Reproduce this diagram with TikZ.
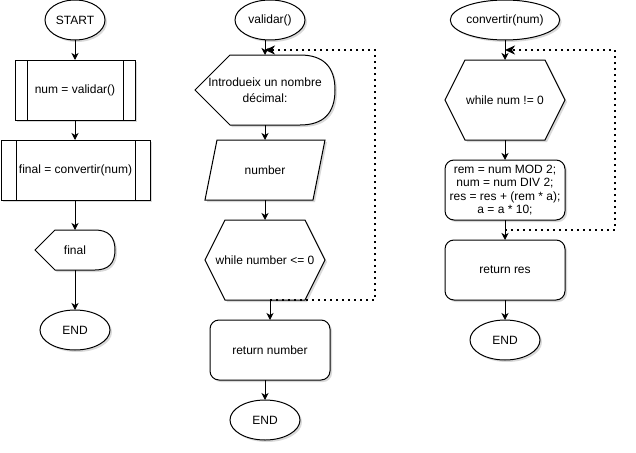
\documentclass[tikz,border=0pt]{standalone}
\usepackage{fontspec}
\setmainfont{Liberation Sans}
\usetikzlibrary{arrows.meta,calc,shadows,shapes.geometric,backgrounds}
\begin{document}
\begin{tikzpicture}[x=1pt,y=-1pt,
  font=\fontsize{12}{14}\selectfont,
  every node/.style={outer sep=0pt, inner sep=0pt, align=center},
  shp/.style={draw=black, fill=white, line width=1pt,
    drop shadow={shadow xshift=2pt, shadow yshift=-2pt, opacity=0.15, fill=black}},
  term/.style={shp, ellipse, minimum height=40pt},
  procbox/.style={shp, rectangle},
  roundbox/.style={shp, rectangle, rounded corners=9pt, minimum width=120pt, minimum height=60pt},
  arr/.style={line width=1pt, -{Stealth[length=7pt,width=7pt,inset=2pt]}},
  loopline/.style={line width=2pt, dash pattern=on 2pt off 4pt,
    -{Stealth[length=10pt,width=9pt,inset=3pt]}}
]
\useasboundingbox (0,0) rectangle (636,452);

% ---------- left column ----------
\node[term, minimum width=60pt] (start) at (75,20) {START};
\node[procbox, minimum width=120pt, minimum height=60pt] (p1) at (75,90) {num = validar()};
\node[procbox, minimum width=149pt, minimum height=60pt] (p2) at (75.5,170) {final = convertir(num)};
\node[minimum width=80pt, minimum height=40pt] (fin) at (75,250) {final};
\node[term, minimum width=70pt] (end1) at (75,330) {END};

% ---------- middle column ----------
\node[term, minimum width=70pt] (val) at (270,20) {validar()};
\node[minimum width=140pt, minimum height=70pt] (disp) at (265,90) {Introdueix un nombre\\[2pt]décimal:};
\node[minimum width=120pt, minimum height=60pt] (par) at (265,170) {number};
\node[minimum width=120pt, minimum height=80pt] (hex1) at (265,260) {while number <= 0};
\node[roundbox] (ret1) at (270,350) {return number};
\node[term, minimum width=70pt] (end2) at (265,420) {END};

% ---------- right column ----------
\node[term, minimum width=100pt] (conv) at (505,20) {convertir(num)};
\node[minimum width=120pt, minimum height=80pt] (hex2) at (505,100) {while num != 0};
\node[roundbox, font=\fontsize{12}{13.5}\selectfont] (calcb) at (505,190)
  {rem = num MOD 2;\\ num = num DIV 2;\\ res = res + (rem * a);\\ a = a * 10;};
\node[roundbox] (ret2) at (505,270) {return res};
\node[term, minimum width=70pt] (end3) at (505,340) {END};

\coordinate (lp1) at (375,300);
\coordinate (lp2) at (375,50);
\coordinate (rp1) at (615,230);
\coordinate (rp2) at (615,50);

% ---------- custom outlines ----------
\begin{scope}[on background layer]
  \fill[white] (0,0) rectangle (636,452);
  % display: final
  \path[shp] (fin.west) -- ($(fin.north west)+(20,0)$) -- ($(fin.north east)+(-20,0)$)
    .. controls ($(fin.north east)+(-6.67,0)$) and ($(fin.east)+(0,-13.33)$) .. (fin.east)
    .. controls ($(fin.east)+(0,13.33)$) and ($(fin.south east)+(-6.67,0)$) .. ($(fin.south east)+(-20,0)$)
    -- ($(fin.south west)+(20,0)$) -- cycle;
  % display: prompt
  \path[shp] (disp.west) -- ($(disp.north west)+(35,0)$) -- ($(disp.north east)+(-35,0)$)
    .. controls ($(disp.north east)+(-11.67,0)$) and ($(disp.east)+(0,-23.33)$) .. (disp.east)
    .. controls ($(disp.east)+(0,23.33)$) and ($(disp.south east)+(-11.67,0)$) .. ($(disp.south east)+(-35,0)$)
    -- ($(disp.south west)+(35,0)$) -- cycle;
  % parallelogram
  \path[shp] (par.south west) -- ($(par.north west)+(12,0)$) -- (par.north east)
    -- ($(par.south east)+(-12,0)$) -- cycle;
  % hexagons
  \path[shp] (hex1.west) -- ($(hex1.north west)+(20,0)$) -- ($(hex1.north east)+(-20,0)$)
    -- (hex1.east) -- ($(hex1.south east)+(-20,0)$) -- ($(hex1.south west)+(20,0)$) -- cycle;
  \path[shp] (hex2.west) -- ($(hex2.north west)+(20,0)$) -- ($(hex2.north east)+(-20,0)$)
    -- (hex2.east) -- ($(hex2.south east)+(-20,0)$) -- ($(hex2.south west)+(20,0)$) -- cycle;
\end{scope}

% predefined-process side bars
\draw[line width=1pt] ($(p1.north west)+(12,0)$) -- ($(p1.south west)+(12,0)$);
\draw[line width=1pt] ($(p1.north east)+(-12,0)$) -- ($(p1.south east)+(-12,0)$);
\draw[line width=1pt] ($(p2.north west)+(15,0)$) -- ($(p2.south west)+(15,0)$);
\draw[line width=1pt] ($(p2.north east)+(-15,0)$) -- ($(p2.south east)+(-15,0)$);

% ---------- connectors ----------
\draw[arr] (start.south) -- (p1.north);
\draw[arr] (p1.south) -- (p1.south |- p2.north);
\draw[arr] (fin.north |- p2.south) -- (fin.north);
\draw[arr] (fin.south) -- (end1.north);

\draw[arr] (disp.north |- val.south) -- (disp.north);
\draw[arr] (disp.south) -- (par.north);
\draw[arr] (par.south) -- (hex1.north);
\draw[arr] (ret1.north |- hex1.south) -- (ret1.north);
\draw[arr] (end2.north |- ret1.south) -- (end2.north);
\draw[loopline] (ret1.north |- hex1.south) -- (lp1) -- (lp2) -- (disp.north |- lp2);

\draw[arr] (conv.south) -- (hex2.north);
\draw[arr] (hex2.south) -- (calcb.north);
\draw[arr] (calcb.south) -- (ret2.north);
\draw[arr] (ret2.south) -- (end3.north);
\draw[loopline] (calcb.south |- rp1) -- (rp1) -- (rp2) -- (conv.south |- rp2);
\end{tikzpicture}
\end{document}
